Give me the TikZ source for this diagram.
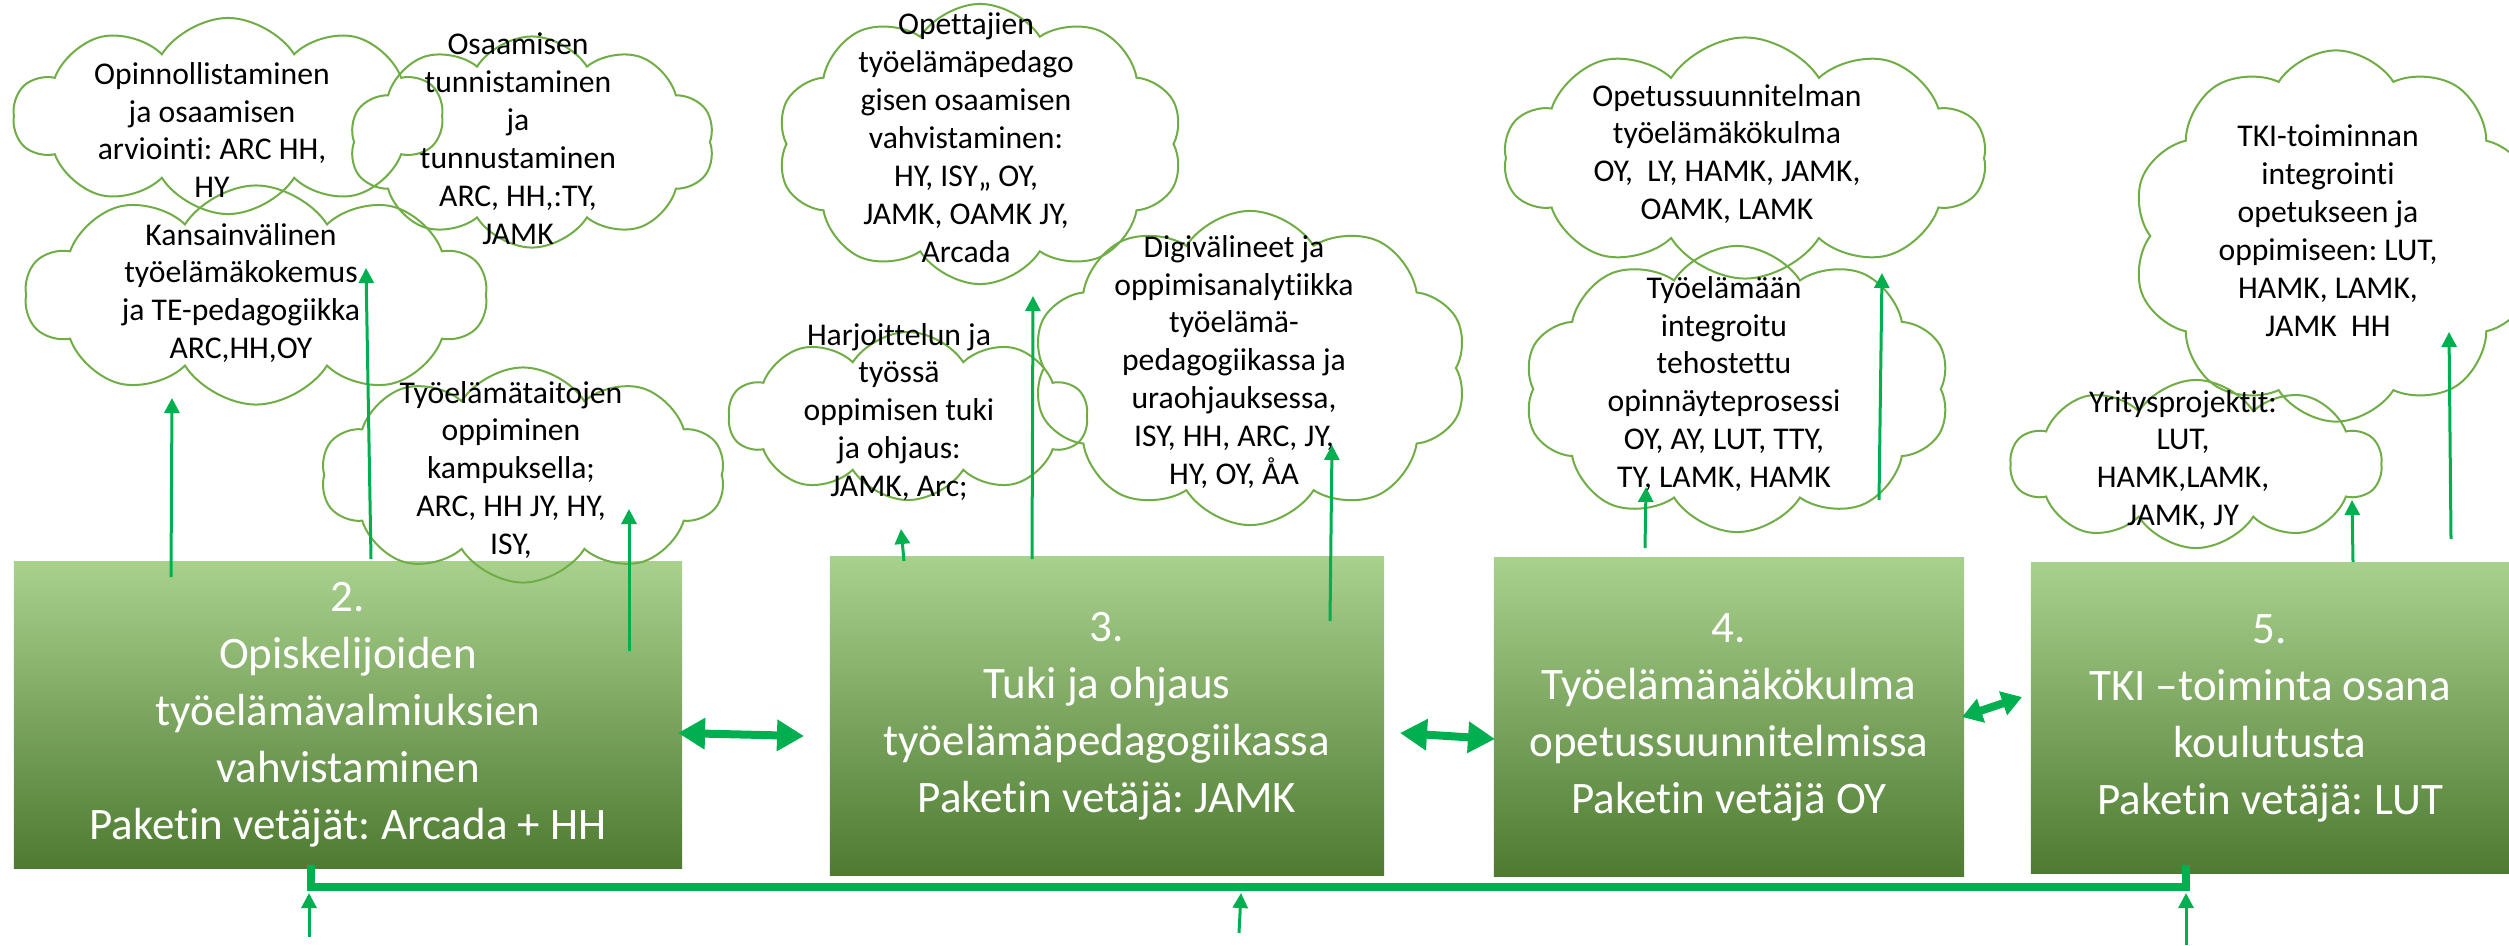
\documentclass[tikz,border=0pt]{standalone}
\usepackage{fontspec}
\setmainfont[Ligatures=NoCommon]{Carlito}
\usetikzlibrary{shapes.symbols,arrows.meta}
\frenchspacing

\definecolor{leaf}{HTML}{70AD47}
\definecolor{leaftop}{HTML}{A9D18E}
\definecolor{leafbot}{HTML}{4E7A31}
\definecolor{arrowgreen}{HTML}{00B050}

\begin{document}
\begin{tikzpicture}[x=0.01cm,y=-0.01cm,
  pkg/.style={rectangle,top color=leaftop,middle color=leaf,bottom color=leafbot,text=white,align=center,font=\fontsize{12.8}{16.2}\selectfont,inner sep=0pt},
  puff/.style={cloud,cloud puffs=10,cloud puff arc=115,cloud ignores aspect,draw=leaf,line width=0.02cm,inner sep=0pt},
  puffnote/.style={align=center,font=\fontsize{9}{10.8}\selectfont,inner sep=0pt},
  up/.style={draw=arrowgreen,line width=0.03cm,-{Triangle[width=0.15cm,length=0.15cm]}},
  duo/.style={draw=arrowgreen,line width=0.08cm,{Triangle[width=0.3cm,length=0.27cm]}-{Triangle[width=0.3cm,length=0.27cm]}},
  shortduo/.style={draw=arrowgreen,line width=0.08cm,{Triangle[width=0.24cm,length=0.2cm]}-{Triangle[width=0.24cm,length=0.2cm]}},
  bar/.style={draw=arrowgreen,line width=0.08cm}]
\useasboundingbox (0,0) rectangle (2509,945);
\clip (0,0) rectangle (2509,945);

\node[pkg,minimum width=6.68cm,minimum height=3.06cm] (p2) at (348,715) {2.\\Opiskelijoiden\\työelämävalmiuksien\\vahvistaminen\\Paketin vetäjät: Arcada + HH};
\node[pkg,minimum width=5.54cm,minimum height=3.19cm] (p3) at (1107,716) {3.\\Tuki ja ohjaus\\työelämäpedagogiikassa\\Paketin vetäjä: JAMK};
\node[pkg,minimum width=4.70cm,minimum height=3.18cm] (p4) at (1729,717) {4.\\Työelämänäkökulma\\opetussuunnitelmissa\\Paketin vetäjä OY};
\node[pkg,minimum width=4.78cm,minimum height=3.11cm] (p5) at (2270,718) {5.\\TKI –toiminta osana\\koulutusta\\Paketin vetäjä: LUT};

\node[puff,minimum width=4.29cm,minimum height=1.96cm] (c1) at (228,116) {};
\node[puff,minimum width=3.65cm,minimum height=2.11cm] (c2) at (532,142) {};
\node[puff,minimum width=4.62cm,minimum height=2.19cm] (c3) at (256,295) {};
\node[puff,minimum width=4.04cm,minimum height=2.15cm] (c4) at (523,475) {};
\node[puff,minimum width=4.06cm,minimum height=2.80cm] (c5) at (980,144) {};
\node[puff,minimum width=3.59cm,minimum height=1.68cm] (c6) at (908,416) {};
\node[puff,minimum width=4.35cm,minimum height=3.14cm] (c7) at (1250,368) {};
\node[puff,minimum width=4.83cm,minimum height=2.41cm] (c8) at (1745,158) {};
\node[puff,minimum width=4.26cm,minimum height=2.86cm] (c9) at (1737,389) {};
\node[puff,minimum width=4.08cm,minimum height=3.71cm] (c10) at (2336,236) {};
\node[puff,minimum width=3.71cm,minimum height=1.68cm] (c11) at (2196,464) {};

\node[puffnote] (t1) at (212,130) {Opinnollistaminen\\ja osaamisen\\arviointi: ARC HH,\\HY};
\node[puffnote] (t2) at (518,139) {Osaamisen\\tunnistaminen\\ja\\tunnustaminen\\ARC, HH,:TY,\\JAMK};
\node[puffnote] (t3) at (241,293) {Kansainvälinen\\työelämäkokemus\\ja TE-pedagogiikka\\ARC,HH,OY};
\node[puffnote] (t4) at (511,470) {Työelämätaitojen\\oppiminen\\kampuksella;\\ARC, HH JY, HY,\\ISY,};
\node[puffnote] (t5) at (966,138) {Opettajien\\työelämäpedago\\gisen osaamisen\\vahvistaminen:\\HY, ISY,, OY,\\JAMK, OAMK JY,\\Arcada};
\node[puffnote] (t6) at (899,412) {Harjoittelun ja\\työssä\\oppimisen tuki\\ja ohjaus:\\JAMK, Arc;};
\node[puffnote] (t7) at (1234,362) {Digivälineet ja\\oppimisanalytiikka\\työelämä-\\pedagogiikassa ja\\uraohjauksessa,\\ISY, HH, ARC, JY,\\HY, OY, ÅA};
\node[puffnote] (t8) at (1727,154) {Opetussuunnitelman\\työelämäkökulma\\OY,\ \ LY, HAMK, JAMK,\\OAMK, LAMK};
\node[puffnote] (t9) at (1724,384) {Työelämään\\integroitu\\tehostettu\\opinnäyteprosessi\\OY, AY, LUT, TTY,\\TY, LAMK, HAMK};
\node[puffnote] (t10) at (2328,231) {TKI-toiminnan\\integrointi\\opetukseen ja\\oppimiseen: LUT,\\HAMK, LAMK,\\JAMK\ \ HH};
\node[puffnote] (t11) at (2183,460) {Yritysprojektit:\\LUT,\\HAMK,LAMK,\\JAMK, JY};

\coordinate (d2) at (678,733);
\coordinate (d3) at (804,736);
\coordinate (e3) at (1400,733);
\coordinate (e4) at (1495,739);
\coordinate (f4) at (1962,717);
\coordinate (f5) at (2022,697);
\draw[duo] (d2) -- (d3);
\draw[duo] (e3) -- (e4);
\draw[shortduo] (f4) -- (f5);

\coordinate (k2) at (311,865);
\coordinate (k5) at (2186,865);
\draw[bar] (k2) -- ++(0,22) -| (k5);

\coordinate (q2) at (309,893);
\coordinate (q3) at (1241,893);
\coordinate (q5) at (2186,893);
\coordinate (r2) at (309,937);
\coordinate (r3) at (1239,933);
\coordinate (r5) at (2186,945);
\draw[up] (r2) -- (q2);
\draw[up] (r3) -- (q3);
\draw[up] (r5) -- (q5);

\coordinate (s1) at (171,577);
\coordinate (s2) at (371,559);
\coordinate (s3) at (629,651);
\coordinate (s4) at (904,561);
\coordinate (s5) at (1032,559);
\coordinate (s6) at (1330,621);
\coordinate (s7) at (1645,548);
\coordinate (s8) at (1879,500);
\coordinate (s9) at (2353,562);
\coordinate (s10) at (2451,539);
\coordinate (u1) at (172,398);
\coordinate (u2) at (366,268);
\coordinate (u3) at (629,509);
\coordinate (u4) at (901,529);
\coordinate (u5) at (1033,296);
\coordinate (u6) at (1332,445);
\coordinate (u7) at (1646,487);
\coordinate (u8) at (1882,273);
\coordinate (u9) at (2352,500);
\coordinate (u10) at (2449,332);
\draw[up] (s1) -- (u1);
\draw[up] (s2) -- (u2);
\draw[up] (s3) -- (u3);
\draw[up] (s4) -- (u4);
\draw[up] (s5) -- (u5);
\draw[up] (s6) -- (u6);
\draw[up] (s7) -- (u7);
\draw[up] (s8) -- (u8);
\draw[up] (s9) -- (u9);
\draw[up] (s10) -- (u10);
\end{tikzpicture}
\end{document}
